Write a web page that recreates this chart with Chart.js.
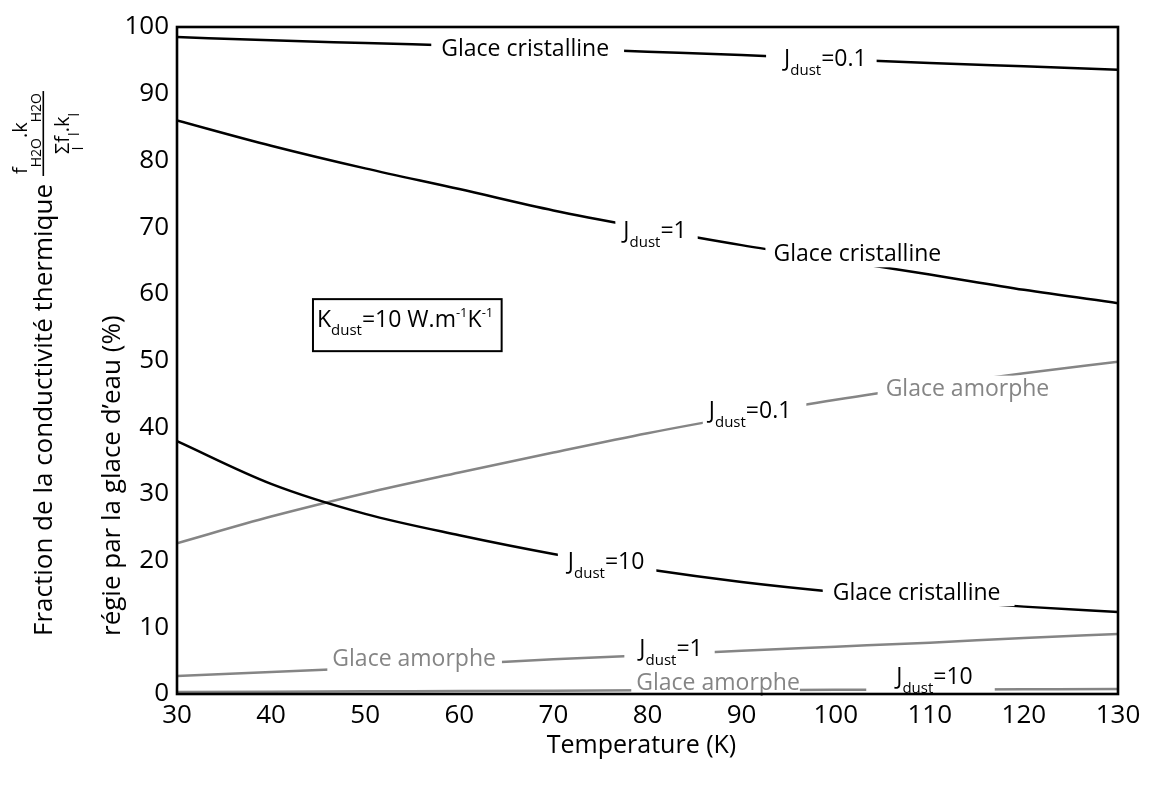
<!DOCTYPE html>
<html>
<head>
<meta charset="utf-8">
<script src="https://cdn.jsdelivr.net/npm/chart.js@4.4.0/dist/chart.umd.min.js"></script>
<style>
  body { margin: 0; background: #fff; }
  canvas { display: block; }
</style>
</head>
<body>
<canvas id="chart" width="1149" height="785"></canvas>
<script>
// Temperature (K)
const temperatures = [30, 40, 50, 60, 70, 80, 90, 100, 110, 120, 130];

// Glace cristalline (black curves), % of conductivity
const crystJ01 = [98.5, 98.0, 97.6, 97.2, 96.8, 96.3, 95.8, 95.2, 94.6, 94.1, 93.6];
const crystJ1 = [86.0, 82.2, 78.8, 75.7, 72.5, 69.8, 67.3, 65.1, 62.9, 60.6, 58.6];
const crystJ10 = [37.9, 31.5, 27.0, 23.8, 21.0, 18.7, 16.8, 15.3, 14.1, 13.1, 12.3];

// Glace amorphe (grey curves)
const amorJ01 = [22.6, 26.6, 30.1, 33.2, 36.2, 39.1, 41.7, 44.1, 46.2, 48.1, 49.8];
const amorJ1 = [2.7, 3.3, 3.9, 4.5, 5.2, 5.8, 6.5, 7.1, 7.7, 8.4, 9.0];
const amorJ10 = [0.3, 0.35, 0.4, 0.45, 0.5, 0.55, 0.6, 0.62, 0.66, 0.7, 0.75];

const xTickValues = [30, 40, 50, 60, 70, 80, 90, 100, 110, 120, 130];
const yTickValues = [0, 10, 20, 30, 40, 50, 60, 70, 80, 90, 100];

const FONT = "'Open Sans', 'Noto Sans', sans-serif";
const BLACK = '#000000';
const GREY = '#858585';

// in-line curve labels (anchored in data units: centre T, mid-height v)
const curveLabels = [
    { text: 'Glace cristalline', T: 67.0, v: 96.9, color: BLACK, pad: [10, 15] },
    { j: '0.1', T: 98.9, v: 95.4, color: BLACK, pad: [18, 10] },
    { j: '1', T: 80.8, v: 69.6, color: BLACK, pad: [8, 11] },
    { text: 'Glace cristalline', T: 102.3, v: 66.1, color: BLACK, pad: [8, 8] },
    { j: '10', T: 75.6, v: 19.9, color: BLACK, pad: [10, 12] },
    { text: 'Glace cristalline', T: 108.6, v: 15.3, color: BLACK, pad: [10, 14] },
    { j: '0.1', T: 90.9, v: 42.6, color: BLACK, pad: [6, 15] },
    { text: 'Glace amorphe', T: 114.0, v: 45.9, color: GREY, pad: [8, 8] },
    { text: 'Glace amorphe', T: 55.2, v: 5.4, color: GREY, pad: [5, 6] },
    { j: '1', T: 82.5, v: 6.9, color: BLACK, pad: [15, 12] },
    { text: 'Glace amorphe', T: 87.5, v: 1.8, color: GREY, pad: [5, 0] },
    { j: '10', T: 110.5, v: 2.8, color: BLACK, pad: [30, 22] }
];

function series(values) {
    return temperatures.map((t, i) => ({ x: t, y: values[i] }));
}

function makeDataset(values, color) {
    return {
        data: series(values),
        borderColor: color,
        borderWidth: 2.5,
        pointRadius: 0,
        cubicInterpolationMode: 'monotone',
        fill: false
    };
}

function drawCurveLabels(chart) {
    const ctx = chart.ctx;
    const xs = chart.scales.x;
    const ys = chart.scales.y;
    const main = `23px ${FONT}`;
    const small = `15px ${FONT}`;
    const capH = 16.4;

    curveLabels.forEach(lab => {
        const cx = xs.getPixelForValue(lab.T);
        const cy = ys.getPixelForValue(lab.v);
        const base = cy + capH / 2;
        let parts;
        if (lab.j) {
            parts = [
                { s: 'J', font: main, dy: 0 },
                { s: 'dust', font: small, dy: 9 },
                { s: '=' + lab.j, font: main, dy: 0 }
            ];
        } else {
            parts = [{ s: lab.text, font: main, dy: 0 }];
        }
        let w = 0;
        parts.forEach(p => { ctx.font = p.font; p.w = ctx.measureText(p.s).width; w += p.w; });
        const x0 = cx - w / 2;
        const top = base - capH - 4;
        const bottom = base + (lab.j ? 13 : 6);

        ctx.save();
        ctx.fillStyle = '#ffffff';
        ctx.fillRect(x0 - lab.pad[0], top, w + lab.pad[0] + lab.pad[1], bottom - top);
        ctx.fillStyle = lab.color;
        ctx.textBaseline = 'alphabetic';
        ctx.textAlign = 'left';
        let x = x0;
        parts.forEach(p => {
            ctx.font = p.font;
            ctx.fillText(p.s, x, base + p.dy);
            x += p.w;
        });
        ctx.restore();
    });
}

function drawKBox(chart) {
    const ctx = chart.ctx;
    const xs = chart.scales.x;
    const ys = chart.scales.y;
    const left = xs.getPixelForValue(44.45);
    const right = xs.getPixelForValue(64.5);
    const top = ys.getPixelForValue(59.2);
    const bottom = ys.getPixelForValue(51.4);

    ctx.save();
    ctx.lineWidth = 2;
    ctx.strokeStyle = BLACK;
    ctx.strokeRect(left, top, right - left, bottom - top);

    const base = top + 28;
    const parts = [
        { s: 'K', font: `23px ${FONT}`, dy: 0 },
        { s: 'dust', font: `15px ${FONT}`, dy: 8 },
        { s: '=10 W.m', font: `23px ${FONT}`, dy: 0 },
        { s: '-1', font: `13px ${FONT}`, dy: -10 },
        { s: 'K', font: `23px ${FONT}`, dy: 0 },
        { s: '-1', font: `13px ${FONT}`, dy: -10 }
    ];
    ctx.fillStyle = BLACK;
    ctx.textBaseline = 'alphabetic';
    let x = left + 4;
    parts.forEach(p => {
        ctx.font = p.font;
        ctx.fillText(p.s, x, base + p.dy);
        x += ctx.measureText(p.s).width;
    });
    ctx.restore();
}

function drawTitles(chart) {
    const ctx = chart.ctx;
    const area = chart.chartArea;
    ctx.save();
    ctx.fillStyle = BLACK;

    // x title
    ctx.font = `25px ${FONT}`;
    ctx.textAlign = 'center';
    ctx.textBaseline = 'middle';
    ctx.fillText('Temperature (K)', (area.left + area.right) / 2 - 6, 746);

    // y title, line 1 with the fraction
    ctx.textAlign = 'left';
    ctx.textBaseline = 'alphabetic';
    ctx.save();
    ctx.translate(52, 636);
    ctx.rotate(-Math.PI / 2);
    ctx.font = `26px ${FONT}`;
    const line1 = 'Fraction de la conductivité thermique';
    ctx.fillText(line1, 0, 0);
    const w1 = ctx.measureText(line1).width;

    const fMain = `20px ${FONT}`;
    const fSub = `14px ${FONT}`;
    const num = [
        { s: 'f', font: fMain, dy: 0 },
        { s: 'H2O', font: fSub, dy: 14 },
        { s: '.k', font: fMain, dy: 0 },
        { s: 'H2O', font: fSub, dy: 14 }
    ];
    const den = [
        { s: 'Σ', font: fMain, dy: 0 },
        { s: 'f', font: fMain, dy: 0 },
        { s: 'l', font: fSub, dy: 10 },
        { s: '.k', font: fMain, dy: 0 },
        { s: 'l', font: fSub, dy: 10 }
    ];
    const measure = arr => arr.reduce((acc, p) => { ctx.font = p.font; p.w = ctx.measureText(p.s).width; return acc + p.w; }, 0);
    const wn = measure(num);
    const wd = measure(den);
    const fw = Math.max(wn, wd) + 4;
    const u0 = w1 + 8;
    const uc = u0 + fw / 2;

    // fraction bar
    ctx.fillRect(u0, -9.5, fw, 1.6);
    let u = uc - wn / 2;
    num.forEach(p => { ctx.font = p.font; ctx.fillText(p.s, u, -25 + p.dy); u += p.w; });
    u = uc - wd / 2;
    den.forEach((p, i) => {
        ctx.font = p.font;
        ctx.fillText(p.s, u, 17 + p.dy);
        u += p.w;
        if (i === 0) {
            // small l under the sigma
            ctx.font = fSub;
            ctx.fillText('l', u - p.w / 2 - 2, 31);
        }
    });
    ctx.restore();

    // y title, line 2
    ctx.save();
    ctx.translate(120, 636);
    ctx.rotate(-Math.PI / 2);
    ctx.font = `26px ${FONT}`;
    ctx.fillText('régie par la glace d’eau (%)', 0, 0);
    ctx.restore();

    ctx.restore();
}

const overlayPlugin = {
    id: 'overlay',
    afterDatasetsDraw(chart) {
        drawCurveLabels(chart);
        drawKBox(chart);
        const a = chart.chartArea;
        const ctx = chart.ctx;
        ctx.save();
        ctx.lineWidth = 2.6;
        ctx.strokeStyle = BLACK;
        ctx.strokeRect(a.left, a.top, a.right - a.left, a.bottom - a.top);
        ctx.restore();
        drawTitles(chart);
    }
};

new Chart(document.getElementById('chart').getContext('2d'), {
    type: 'line',
    data: {
        datasets: [
            makeDataset(crystJ01, BLACK),
            makeDataset(crystJ1, BLACK),
            makeDataset(crystJ10, BLACK),
            makeDataset(amorJ01, GREY),
            makeDataset(amorJ1, GREY),
            makeDataset(amorJ10, GREY)
        ]
    },
    options: {
        responsive: false,
        animation: false,
        devicePixelRatio: 1,
        layout: { padding: { top: 27, right: 31, left: 0, bottom: 0 } },
        plugins: {
            legend: { display: false },
            tooltip: { enabled: false }
        },
        scales: {
            x: {
                type: 'linear',
                min: 30,
                max: 130,
                grid: { display: false, drawTicks: false },
                border: { display: false },
                ticks: {
                    font: { family: FONT, size: 26 },
                    color: BLACK,
                    padding: 6,
                    autoSkip: false,
                    maxRotation: 0
                },
                afterBuildTicks: s => { s.ticks = xTickValues.map(v => ({ value: v })); },
                afterFit: s => { s.height = 91; }
            },
            y: {
                type: 'linear',
                min: 0,
                max: 100,
                grid: { display: false, drawTicks: false },
                border: { display: false },
                ticks: {
                    font: { family: FONT, size: 26 },
                    color: BLACK,
                    padding: 8,
                    autoSkip: false
                },
                afterBuildTicks: s => { s.ticks = yTickValues.map(v => ({ value: v })); },
                afterFit: s => { s.width = 177; }
            }
        }
    },
    plugins: [overlayPlugin]
});
</script>
</body>
</html>
